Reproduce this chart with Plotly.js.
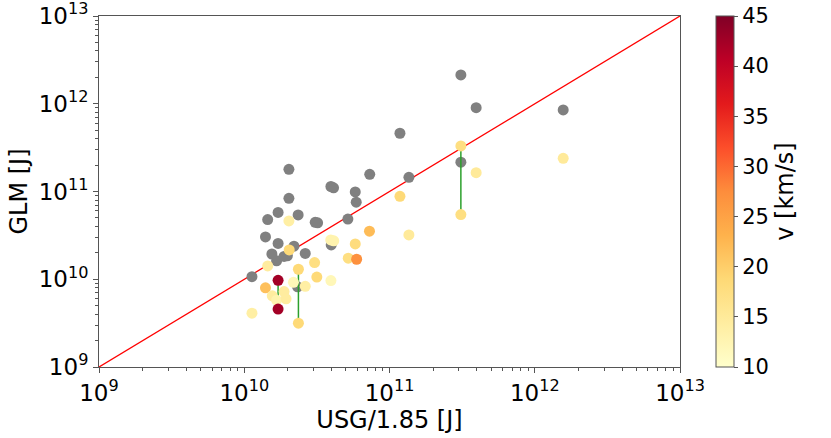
<!DOCTYPE html>
<html>
<head>
<meta charset="utf-8">
<script src="https://cdn.plot.ly/plotly-3.0.1.min.js"></script>
<style>html,body{margin:0;padding:0;background:#fff;}#chart{width:831px;height:438px;}</style>
</head>
<body>
<div id="chart"></div>
<script>
// Gray points: USG/1.85 [J] vs GLM [J]
const grayX = [2.03e10, 7.31e10, 1.36e11, 3.95e10, 4.12e10, 5.81e10, 5.90e10, 2.03e10, 1.71e10, 1.45e10,
               2.35e10, 3.08e10, 3.20e10, 5.17e10, 1.40e10, 1.71e10, 2.20e10, 1.55e10, 1.88e10, 1.98e10,
               1.67e10, 2.63e10, 3.97e10, 1.13e10, 2.33e10, 3.10e11, 3.95e11, 1.57e12, 1.18e11, 3.10e11];
const grayY = [1.79e11, 1.57e11, 1.45e11, 1.14e11, 1.10e11, 9.90e10, 7.55e10, 8.35e10, 5.78e10, 4.79e10,
               5.41e10, 4.45e10, 4.39e10, 4.85e10, 3.04e10, 2.56e10, 2.38e10, 1.94e10, 1.82e10, 1.85e10,
               1.62e10, 1.97e10, 2.46e10, 1.07e10, 8.19e9, 2.13e12, 9.03e11, 8.50e11, 4.61e11, 2.16e11];

// Coloured points with velocity v [km/s]
const colX = [2.03e10, 1.18e11, 1.36e11, 7.28e10, 3.94e10, 4.13e10, 5.81e10, 2.04e10, 1.45e10, 3.05e10,
              5.20e10, 5.94e10, 2.36e10, 3.16e10, 3.95e10, 1.71e10, 2.18e10, 2.63e10, 1.40e10, 1.56e10,
              1.88e10, 1.67e10, 1.94e10, 1.71e10, 1.13e10, 2.36e10, 3.10e11, 3.95e11, 3.10e11, 1.57e12];
const colY = [4.62e10, 8.80e10, 3.20e10, 3.53e10, 2.81e10, 2.74e10, 2.53e10, 2.16e10, 1.42e10, 1.55e10,
              1.74e10, 1.69e10, 1.30e10, 1.06e10, 9.67e9, 9.72e9, 9.22e9, 8.30e9, 7.98e9, 6.47e9,
              7.24e9, 5.78e9, 5.98e9, 4.57e9, 4.11e9, 3.16e9, 3.31e11, 1.64e11, 5.46e10, 2.39e11];
const colV = [14, 18.5, 15, 22, 13, 13, 18, 18.5, 14.5, 17.5,
              17.5, 27, 18.5, 18.5, 12, 42.5, 12, 14, 21.5, 14.5,
              14.5, 13, 14.5, 42.5, 14, 18.5, 17.5, 15, 17.5, 15];

// Green range segments
const segX  = [1.71e10, 2.36e10, 3.10e11];
const segY1 = [9.72e9, 1.30e10, 3.31e11];
const segY2 = [4.57e9, 3.16e9, 5.46e10];

// 1:1 line
const diagX = [1e9, 1e13];
const diagY = [1e9, 1e13];

// Axis tick labels
const decadeVals = [1e9, 1e10, 1e11, 1e12, 1e13];
const decadeText = ['10<sup>9</sup>', '10<sup>10</sup>', '10<sup>11</sup>', '10<sup>12</sup>', '10<sup>13</sup>'];
const cbTicks = [10, 15, 20, 25, 30, 35, 40, 45];

const minorVals = [];
for (let d = 0; d < decadeVals.length - 1; d++) {
  for (let m = 2; m <= 9; m++) minorVals.push(m * decadeVals[d]);
}

const lx = [], ly = [];
for (let i = 0; i < segX.length; i++) { lx.push(segX[i], segX[i], null); ly.push(segY1[i], segY2[i], null); }

const ylorrd = [[0,'#ffffcc'],[0.125,'#ffeda0'],[0.25,'#fed976'],[0.375,'#feb24c'],[0.5,'#fd8d3c'],
                [0.625,'#fc4e2a'],[0.75,'#e31a1c'],[0.875,'#bd0026'],[1,'#800026']];

const FONT = 'DejaVu Sans, sans-serif';

const traces = [
  {x: diagX, y: diagY, type: 'scatter', mode: 'lines', line: {color: 'red', width: 1.3}, hoverinfo: 'skip'},
  {x: grayX, y: grayY, type: 'scatter', mode: 'markers', marker: {color: '#808080', size: 11, line: {width: 0}}},
  {x: lx, y: ly, type: 'scatter', mode: 'lines', line: {color: '#2ca02c', width: 1.5}, connectgaps: false},
  {x: colX, y: colY, type: 'scatter', mode: 'markers',
   marker: {color: colV, size: 11, line: {width: 0}, colorscale: ylorrd, cmin: 10, cmax: 45, showscale: true,
            colorbar: {thickness: 18, len: 1, lenmode: 'fraction', x: 1.0615, xanchor: 'left', y: 0.5, yanchor: 'middle',
                       xpad: 0, ypad: 0, outlinewidth: 1, outlinecolor: '#555',
                       tickvals: cbTicks, ticks: 'outside', ticklen: 4, tickcolor: '#555',
                       tickfont: {family: FONT, size: 21, color: '#000'},
                       title: {text: 'v [km/s]', side: 'right', font: {family: FONT, size: 24, color: '#000'}}}}}
];

const axisCommon = {
  type: 'log', tickmode: 'array', tickvals: decadeVals, ticktext: decadeText,
  ticklabeloverflow: 'allow',
  showgrid: false, zeroline: false,
  showline: true, linecolor: '#555', linewidth: 1, mirror: true,
  ticks: 'outside', ticklen: 5, tickcolor: '#555', tickwidth: 1,
  minor: {tickmode: 'array', tickvals: minorVals, ticks: 'outside', ticklen: 3, tickcolor: '#555', showgrid: false},
  tickfont: {family: FONT, size: 23, color: '#000'}
};

const layout = {
  width: 831, height: 438,
  margin: {l: 99, r: 151, t: 16, b: 71},
  paper_bgcolor: '#fff', plot_bgcolor: '#fff',
  showlegend: false,
  font: {family: FONT, color: '#000'},
  xaxis: Object.assign({}, axisCommon, {range: [9, 13.0000001],
    title: {text: 'USG/1.85 [J]', font: {family: FONT, size: 24, color: '#000'}, standoff: 0}}),
  yaxis: Object.assign({}, axisCommon, {range: [8.9999999, 13.0000001],
    title: {text: 'GLM [J]', font: {family: FONT, size: 24, color: '#000'}, standoff: 4}})
};

Plotly.newPlot('chart', traces, layout, {staticPlot: true, displayModeBar: false});
</script>
</body>
</html>
